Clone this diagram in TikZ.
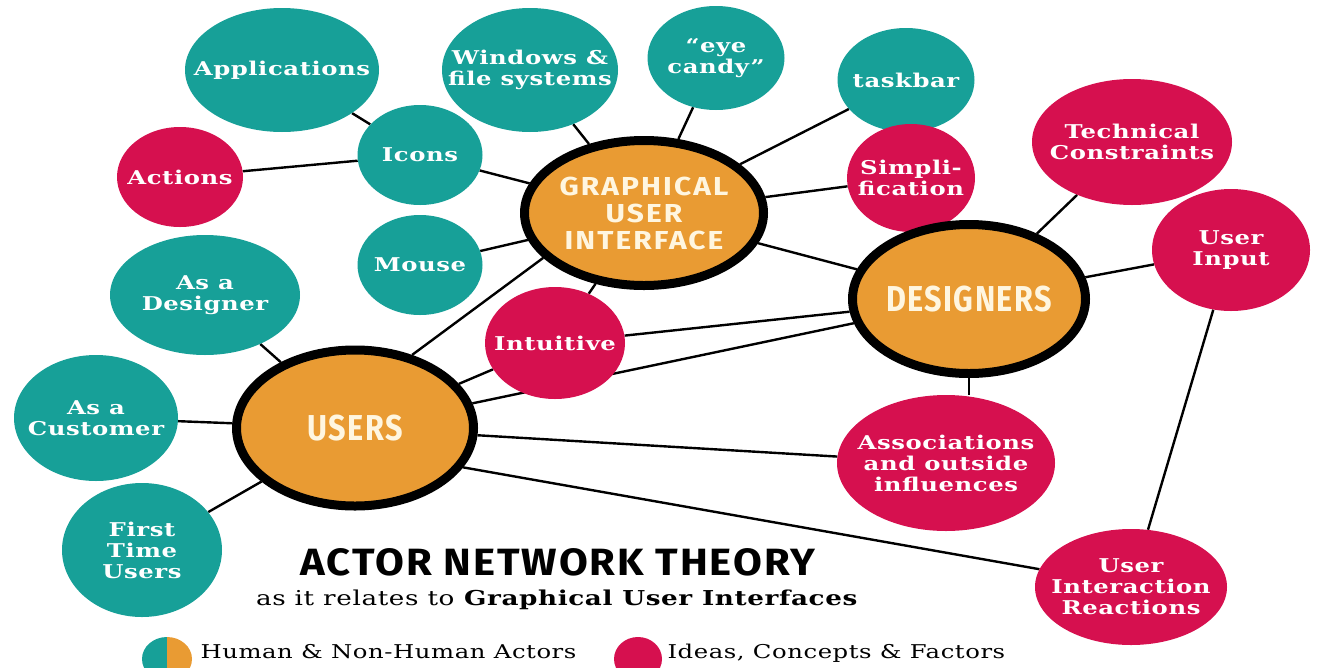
\documentclass[tikz,border=0pt]{standalone}
\usepackage{fontspec}
\setmainfont{DejaVu Serif}[FakeStretch=1.28,LetterSpace=3]
\newfontfamily\hubfont[FakeStretch=0.85,LetterSpace=4]{Fira Sans}
\newfontfamily\guifont[FakeStretch=1.15,LetterSpace=8]{Fira Sans}
\newfontfamily\titlefont[FakeStretch=1.1,LetterSpace=5]{Fira Sans}
\usetikzlibrary{shapes.geometric,backgrounds}
\definecolor{anteal}{HTML}{17A098}
\definecolor{ancrim}{HTML}{D6104F}
\definecolor{anorange}{HTML}{E99B33}
\definecolor{ancream}{HTML}{FFF6E0}

\begin{document}
\begin{tikzpicture}[x=1pt,y=-1pt,
  sz/.style 2 args={minimum width=#1pt,minimum height=#2pt},
  actor/.style={ellipse,fill=anteal,text=white,inner xsep=-30pt,inner ysep=0pt,
    align=center,font=\bfseries\fontsize{19}{21}\selectfont},
  idea/.style={actor,fill=ancrim},
  hub/.style={ellipse,fill=anorange,draw=black,line width=9pt,text=ancream,
    inner xsep=-15pt,inner ysep=0pt,align=center,
    font=\hubfont\bfseries\fontsize{36}{36}\selectfont},
  tie/.style={line width=2.4pt}]
  \useasboundingbox (0,0) rectangle (1319,667);
  % actors and ideas
  \node[actor,sz={194}{124}] (apps) at (282,70) {Applications};
  \node[actor,sz={176}{124}] (wins) at (530,70) {Windows \&\\file systems};
  \node[actor,sz={137}{104}] (candy) at (716,58) {“eye\\candy”};
  \node[actor,sz={137}{104}] (task) at (906,80) {taskbar};
  \node[idea,sz={126}{100}] (acts) at (180,177) {Actions};
  \node[actor,sz={125}{100}] (icons) at (420,155) {Icons};
  \node[actor,sz={125}{100}] (mouse) at (420,265) {Mouse};
  \node[idea,sz={128}{108}] (simp) at (911,178) {Simpli-\\fication};
  \node[idea,sz={200}{126}] (tech) at (1132,142) {Technical\\Constraints};
  \node[idea,sz={158}{122}] (input) at (1231,250) {User\\Input};
  \node[actor,sz={190}{120}] (asdes) at (205,295) {As a\\Designer};
  \node[idea,sz={140}{112}] (intu) at (555,343) {Intuitive};
  \node[actor,sz={164}{126}] (ascust) at (96,418) {As a\\Customer};
  \node[actor,sz={160}{134}] (first) at (142,550) {First\\Time\\Users};
  \node[idea,sz={218}{136}] (assoc) at (946,463) {Associations\\and outside\\influences};
  \node[idea,sz={192}{116}] (react) at (1131,587) {User\\Interaction\\Reactions};
  % the three hubs
  \node[hub,sz={239}{145},font=\guifont\bfseries\fontsize{26}{27}\selectfont]
    (gui) at (644,213) {GRAPHICAL\\USER\\INTERFACE};
  \node[hub,sz={233}{149}] (dsg) at (969,299) {DESIGNERS};
  \node[hub,sz={237}{156}] (usr) at (355,428) {USERS};
  \begin{scope}[on background layer]
    \draw[tie] (apps) -- (icons);
    \draw[tie] (acts) -- (icons);
    \draw[tie] (icons) -- (gui);
    \draw[tie] (mouse) -- (gui);
    \draw[tie] (wins) -- (gui);
    \draw[tie] (candy) -- (gui);
    \draw[tie] (task) -- (gui);
    \draw[tie] (simp) -- (gui);
    \draw[tie] (gui) -- (dsg);
    \draw[tie] (simp) -- (dsg);
    \draw[tie] (tech) -- (dsg);
    \draw[tie] (input) -- (dsg);
    \draw[tie] (input) -- (react);
    \draw[tie] (dsg) -- (dsg |- assoc.north);
    \draw[tie] (intu) -- (gui);
    \draw[tie] (intu) -- (dsg);
    \draw[tie] (usr) -- (intu);
    \draw[tie] (usr.52) -- (gui.204);
    \draw[tie] (usr) -- (dsg);
    \draw[tie] (usr) -- (assoc);
    \draw[tie] (usr.-20) -- (react.169);
    \draw[tie] (usr) -- (asdes);
    \draw[tie] (usr) -- (ascust);
    \draw[tie] (usr) -- (first);
  \end{scope}
  % title and legend
  \node[anchor=base] (title) at (558,575)
    {\titlefont\bfseries\fontsize{38}{38}\selectfont ACTOR NETWORK THEORY};
  \node[anchor=base] (subtitle) at (557,605)
    {\fontsize{20.5}{24}\selectfont as it relates to \textbf{Graphical User Interfaces}};
  \begin{scope}
    \clip (142,630) rectangle (167,690);
    \fill[anteal] (167,659) ellipse (25 and 22);
  \end{scope}
  \begin{scope}
    \clip (167,630) rectangle (192,690);
    \fill[anorange] (167,659) ellipse (25 and 22);
  \end{scope}
  \node[anchor=base west] (legactor) at (197,658) {\fontsize{19}{22}\selectfont Human \& Non-Human Actors};
  \fill[ancrim] (638,659) ellipse (24 and 22);
  \node[anchor=base west] (legidea) at (664,658) {\fontsize{19}{22}\selectfont Ideas, Concepts \& Factors};
\end{tikzpicture}
\end{document}
